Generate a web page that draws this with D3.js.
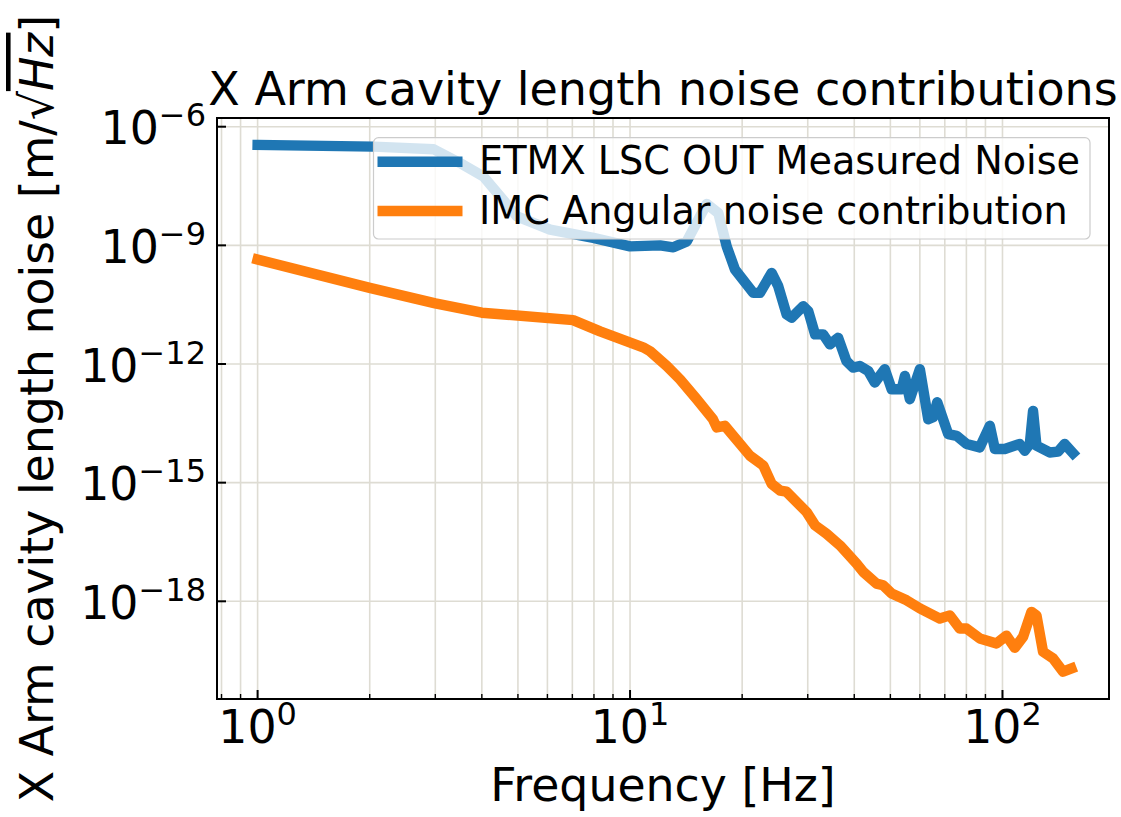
<!DOCTYPE html>
<html>
<head>
<meta charset="utf-8">
<script src="https://cdn.jsdelivr.net/npm/d3@7"></script>
<style>
  body { margin: 0; background: #fff; }
  svg { font-family: "DejaVu Sans", sans-serif; }
</style>
</head>
<body>
<svg id="chart" width="1121" height="817"></svg>
<script>
// ETMX LSC OUT measured noise
var etmxFreq = [1, 2.05, 2.97, 3.57, 4.04, 4.97, 6.10, 7.97, 10, 12.04, 13.07, 14.2, 16.06, 17.26, 18.18, 19.13,
  21.42, 22.33, 24.0, 25.0, 26.33, 27.15, 29.17, 30.1, 31.4, 33.0, 34.4, 36.2, 38.1, 39.7, 41.4, 43.6, 45.4,
  48.3, 50.4, 53.6, 54.7, 56.4, 60.0, 63.2, 65.1, 66.8, 71.5, 75.3, 80.1, 86.9, 92.5, 95.4, 101.4, 111.3,
  114.8, 118.4, 120.8, 123.4, 133.9, 141.0, 146.9, 154.6]
var etmxNoise = [3.46e-7, 3.13e-7, 2.69e-7, 1.08e-7, 5.5e-8, 5.4e-9, 2.49e-9, 1.54e-9, 9.4e-10, 1.0e-9, 8.9e-10,
  1.26e-9, 1.12e-8, 6.56e-9, 9.4e-10, 2.44e-10, 6.3e-11, 6.3e-11, 2.01e-10, 9.3e-11, 1.79e-11, 1.48e-11,
  2.9e-11, 2.17e-11, 5.6e-12, 5.6e-12, 3.14e-12, 4.6e-12, 1.19e-12, 8.1e-13, 8.9e-13, 6.7e-13, 3.4e-13,
  7.4e-13, 2.3e-13, 2.3e-13, 5.0e-13, 1.29e-13, 7.4e-13, 4.0e-14, 4.5e-14, 1.08e-13, 1.69e-14, 1.53e-14,
  9.5e-15, 7.8e-15, 2.74e-14, 7.1e-15, 7.1e-15, 9.5e-15, 6.4e-15, 9.5e-15, 6.5e-14, 8.6e-15, 5.8e-15,
  6.1e-15, 9.5e-15, 5.6e-15]

// IMC angular noise contribution
var imcFreq = [1, 2, 3, 4, 7.03, 8.31, 10.84, 11.32, 12.55, 13.62, 15.1, 16.7, 17.09, 17.98, 20.99, 22.8, 24.0,
  25.3, 26.3, 29.8, 31.4, 33.7, 36.6, 40.6, 42.3, 45.9, 47.8, 50.4, 55.3, 60.0, 67.9, 72.2, 76.8, 80.1, 86.9,
  96.4, 102.5, 107.9, 113.6, 119.6, 123.4, 128.5, 136.7, 145.4, 153.1]
var imcNoise = [4.37e-10, 8.4e-11, 3.4e-11, 1.98e-11, 1.29e-11, 6.7e-12, 2.64e-12, 2.1e-12, 8.9e-13, 4.1e-13,
  1.29e-13, 4.0e-14, 2.49e-14, 2.74e-14, 4.8e-15, 2.7e-15, 9.3e-16, 6.3e-16, 5.9e-16, 1.8e-16, 8.3e-17,
  5.1e-17, 2.6e-17, 8.9e-18, 5.5e-18, 2.8e-18, 2.54e-18, 1.57e-18, 1.06e-18, 6.6e-19, 3.67e-19, 4.4e-19,
  2.05e-19, 2.05e-19, 1.15e-19, 8.6e-20, 1.35e-19, 6.7e-20, 1.27e-19, 5.4e-19, 4.4e-19, 5.3e-20, 3.6e-20,
  1.66e-20, 2.0e-20]

var seriesNames = ['ETMX LSC OUT Measured Noise', 'IMC Angular noise contribution']
var seriesColors = ['#1f77b4', '#ff7f0e']

var xTicks = [1, 10, 100]
var xTickExp = ['0', '1', '2']
var xMinorTicks = [0.8, 0.9, 2, 3, 4, 5, 6, 7, 8, 9, 20, 30, 40, 50, 60, 70, 80, 90]
var yTicks = [1e-6, 1e-9, 1e-12, 1e-15, 1e-18]
var yTickExp = ['\u22126', '\u22129', '\u221212', '\u221215', '\u221218']

var svg = d3.select('#chart'),
  margin = {top: 118, right: 12, bottom: 118, left: 217},
  width = +svg.attr('width') - margin.left - margin.right,
  height = +svg.attr('height') - margin.top - margin.bottom

var x = d3.scaleLog().domain([0.778, 193.2]).range([0, width]),
  y = d3.scaleLog().domain([Math.pow(10, -20.47), Math.pow(10, -5.78)]).range([height, 0])

var g = svg.append('g')
  .attr('transform', 'translate(' + margin.left + ',' + margin.top + ')')

// grid
var gridColor = '#dedcd3'
g.append('g')
  .selectAll('line')
  .data(xTicks.concat(xMinorTicks))
  .enter().append('line')
  .attr('x1', function (d) { return x(d) })
  .attr('x2', function (d) { return x(d) })
  .attr('y1', 0)
  .attr('y2', height)
  .attr('stroke', gridColor)
  .attr('stroke-width', 1.6)

g.append('g')
  .selectAll('line')
  .data(yTicks)
  .enter().append('line')
  .attr('y1', function (d) { return y(d) })
  .attr('y2', function (d) { return y(d) })
  .attr('x1', 0)
  .attr('x2', width)
  .attr('stroke', gridColor)
  .attr('stroke-width', 1.6)

// lines
var line = d3.line()
  .x(function (d) { return x(d[0]) })
  .y(function (d) { return y(d[1]) })

var series = [d3.zip(etmxFreq, etmxNoise), d3.zip(imcFreq, imcNoise)]

g.append('g')
  .selectAll('path')
  .data(series)
  .enter().append('path')
  .attr('d', line)
  .attr('fill', 'none')
  .attr('stroke', function (d, i) { return seriesColors[i] })
  .attr('stroke-width', 10.4)
  .attr('stroke-linejoin', 'round')
  .attr('stroke-linecap', 'square')

// ticks (pointing inward)
g.append('g')
  .selectAll('line')
  .data(xTicks)
  .enter().append('line')
  .attr('x1', function (d) { return x(d) })
  .attr('x2', function (d) { return x(d) })
  .attr('y1', height)
  .attr('y2', height - 9)
  .attr('stroke', '#000')
  .attr('stroke-width', 2)

g.append('g')
  .selectAll('line')
  .data(xMinorTicks)
  .enter().append('line')
  .attr('x1', function (d) { return x(d) })
  .attr('x2', function (d) { return x(d) })
  .attr('y1', height)
  .attr('y2', height - 5)
  .attr('stroke', '#000')
  .attr('stroke-width', 1.4)

g.append('g')
  .selectAll('line')
  .data(yTicks)
  .enter().append('line')
  .attr('y1', function (d) { return y(d) })
  .attr('y2', function (d) { return y(d) })
  .attr('x1', 0)
  .attr('x2', 9)
  .attr('stroke', '#000')
  .attr('stroke-width', 2)

// tick labels
var xl = g.append('g')
  .selectAll('text')
  .data(xTicks)
  .enter().append('text')
  .attr('x', function (d) { return x(d) })
  .attr('y', height + 44)
  .style('text-anchor', 'middle')
  .attr('font-size', 45.8)
  .attr('fill', '#000')
xl.append('tspan').text('10')
xl.append('tspan')
  .attr('dy', -18)
  .attr('font-size', 32)
  .text(function (d, i) { return xTickExp[i] })

var yl = g.append('g')
  .selectAll('text')
  .data(yTicks)
  .enter().append('text')
  .attr('x', -11)
  .attr('y', function (d) { return y(d) + 17.5 })
  .style('text-anchor', 'end')
  .attr('font-size', 45.8)
  .attr('fill', '#000')
yl.append('tspan').text('10')
yl.append('tspan')
  .attr('dy', -18)
  .attr('font-size', 32)
  .text(function (d, i) { return yTickExp[i] })

// legend
var legend = g.append('g')
  .attr('transform', 'translate(' + (373.5 - margin.left) + ',' + (137.7 - margin.top) + ')')

legend.append('rect')
  .attr('width', 716.5)
  .attr('height', 101.3)
  .attr('rx', 5)
  .attr('fill', 'rgba(255,255,255,0.8)')
  .attr('stroke', '#cccccc')
  .attr('stroke-width', 1.2)

seriesNames.forEach(function (name, i) {
  legend.append('line')
    .attr('x1', 4)
    .attr('x2', 89)
    .attr('y1', 24 + i * 49.3)
    .attr('y2', 24 + i * 49.3)
    .attr('stroke', seriesColors[i])
    .attr('stroke-width', 10.4)
    .attr('stroke-linecap', 'butt')
  legend.append('text')
    .attr('x', 105.5)
    .attr('y', 36.6 + i * 50)
    .attr('font-size', 38.2)
    .attr('fill', '#000')
    .text(name)
})

// frame
g.append('rect')
  .attr('width', width)
  .attr('height', height)
  .attr('fill', 'none')
  .attr('stroke', '#000')
  .attr('stroke-width', 2)

// title and axis labels
svg.append('text')
  .attr('x', margin.left + width / 2)
  .attr('y', 105)
  .style('text-anchor', 'middle')
  .attr('font-size', 46)
  .attr('fill', '#000')
  .text('X Arm cavity length noise contributions')

svg.append('text')
  .attr('x', margin.left + width / 2)
  .attr('y', 801)
  .style('text-anchor', 'middle')
  .attr('font-size', 45.8)
  .attr('fill', '#000')
  .text('Frequency [Hz]')

var ylab = svg.append('text')
  .attr('transform', 'translate(53,' + (margin.top + height / 2) + ') rotate(-90)')
  .style('text-anchor', 'middle')
  .attr('font-size', 45.8)
  .attr('fill', '#000')
ylab.append('tspan').text('X Arm cavity length noise [m/\u221A')
ylab.append('tspan')
  .attr('font-style', 'italic')
  .style('text-decoration', 'overline')
  .text('Hz')
ylab.append('tspan').text(']')
</script>
</body>
</html>
